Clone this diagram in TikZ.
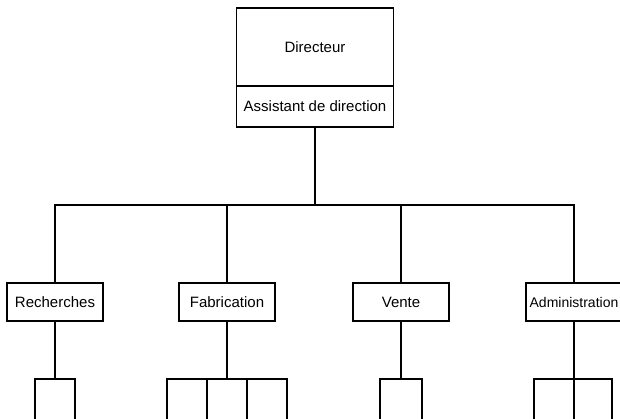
\documentclass[tikz,border=0pt]{standalone}
\usepackage{fontspec}
\setmainfont{Liberation Sans}
\usetikzlibrary{positioning}
\tikzstyle{head_box} = [
    rectangle,
    draw=black,
    line width=1.4pt,
    outer sep=0pt,
    inner sep=0pt,
    minimum width=157pt,
    minimum height=78pt,
    font=\fontsize{15}{17}\selectfont
]
\tikzstyle{assist_box} = [
    head_box,
    minimum height=41pt
]
\tikzstyle{dept_box} = [
    head_box,
    minimum width=96pt,
    minimum height=38pt
]
\tikzstyle{sub_box} = [
    rectangle,
    draw=black,
    line width=1.4pt,
    outer sep=0pt,
    minimum width=40pt,
    minimum height=60pt
]

\begin{document}
\begin{tikzpicture}[x=1pt, y=-1pt, line width=1.4pt]
\useasboundingbox (0,0) rectangle (620,418);
% direction
\node [head_box] (dir) at (315,47) {Directeur};
\node [assist_box, below=0pt of dir] (asst) {Assistant de direction};
% departements
\node [dept_box] (rch) at (55,302) {Recherches};
\node [dept_box] (fab) at (227,302) {Fabrication};
\node [dept_box] (ven) at (401,302) {Vente};
\node [dept_box, font=\fontsize{14}{16}\selectfont] (adm) at (574,302) {Administration};
\coordinate (bus) at (315,205);
% sous-unites
\node [sub_box, below=58pt of rch] (rch1) {};
\node [sub_box, below=58pt of fab] (fab2) {};
\node [sub_box, left=0pt of fab2] (fab1) {};
\node [sub_box, right=0pt of fab2] (fab3) {};
\node [sub_box, below=58pt of ven, minimum width=42pt] (ven1) {};
\node [sub_box, below=58pt of adm, xshift=-20pt] (adm1) {};
\node [sub_box, right=0pt of adm1, minimum width=38pt] (adm2) {};
% liaisons
\draw (asst.south) -- (asst.south |- bus);
\draw (rch.north) -- (rch.north |- bus) -- (adm.north |- bus) -- (adm.north);
\draw (fab.north) -- (fab.north |- bus);
\draw (ven.north) -- (ven.north |- bus);
\draw (rch.south) -- (rch1.north);
\draw (fab.south) -- (fab2.north);
\draw (ven.south) -- (ven1.north);
\draw (adm.south) -- (adm1.north east);
\end{tikzpicture}
\end{document}
